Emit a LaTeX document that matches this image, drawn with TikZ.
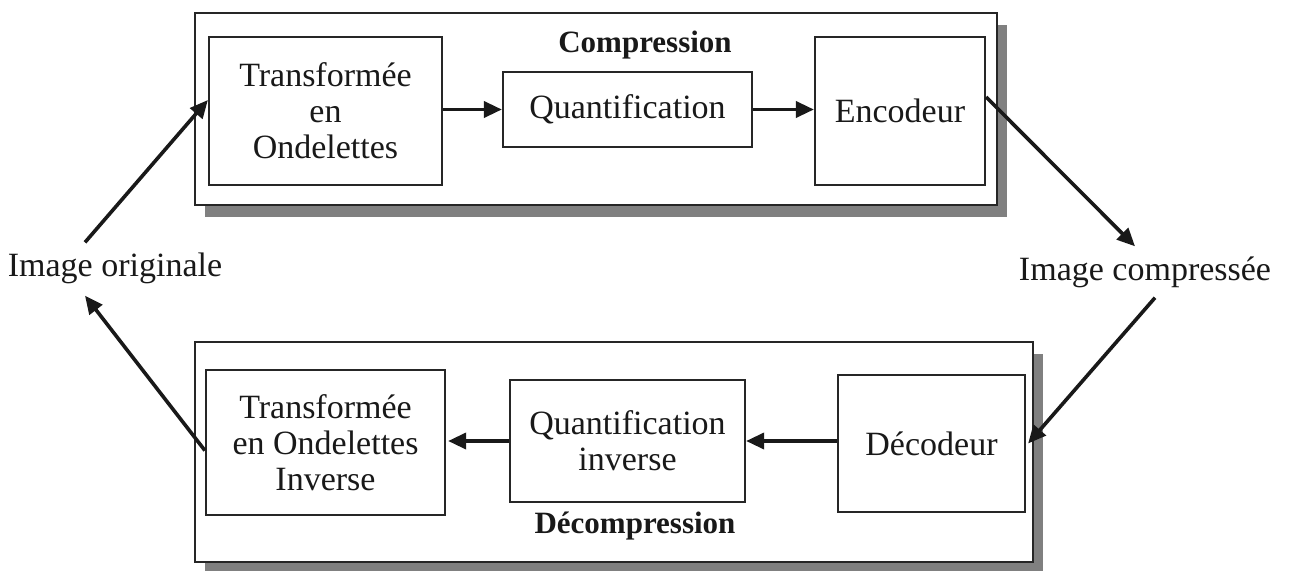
\documentclass[tikz,border=0pt]{standalone}
\usepackage{fontspec}
\setmainfont{Liberation Serif}
\usetikzlibrary{arrows.meta}
\tikzset{
  blk/.style={draw=black!85, line width=2.2pt, fill=white, inner sep=0pt, align=center,
    font=\fontsize{34}{36}\selectfont, text=black!90},
  outer/.style={draw=black!85, line width=2.2pt, fill=white, inner sep=0pt},
  shad/.style={fill=black!50, draw=none},
  lbl/.style={font=\fontsize{34}{36}\selectfont, text=black!90, inner sep=0pt},
  ttl/.style={font=\fontsize{31}{34}\selectfont\bfseries, text=black!90, inner sep=0pt},
  arr/.style={line width=3.6pt, draw=black!90, -{Triangle[length=18pt,width=16pt]}},
}
\begin{document}
\begin{tikzpicture}[x=1pt,y=-1pt]
\useasboundingbox (0,0) rectangle (1289,570);
\fill[white] (0,0) rectangle (1289,570);
% top group
\fill[shad] (205,25) rectangle (1007,217);
\node[outer, minimum width=802pt, minimum height=192pt] (top) at (596,109) {};
\node[blk, minimum width=233pt, minimum height=148pt] (T) at (325.5,111) {Transformée\\en\\Ondelettes};
\node[blk, minimum width=249pt, minimum height=75pt] (Q) at (627.5,109.5) {Quantification};
\node[blk, minimum width=170pt, minimum height=148pt] (E) at (900,111) {Encodeur};
\node[ttl] (comp) at (645,45) {Compression};
% bottom group
\fill[shad] (205,354) rectangle (1043,574);
\node[outer, minimum width=838pt, minimum height=220pt] (bot) at (614,452) {};
\node[blk, minimum width=239pt, minimum height=145pt] (TI) at (325.5,442.5) {Transformée\\en Ondelettes\\Inverse};
\node[blk, minimum width=235pt, minimum height=122pt] (QI) at (627.5,441) {Quantification\\inverse};
\node[blk, minimum width=187pt, minimum height=137pt] (D) at (931.5,443.5) {Décodeur};
\node[ttl] (decomp) at (635,526) {Décompression};
% side labels
\node[lbl] (orig) at (115,268) {Image originale};
\node[lbl] (cimg) at (1145,272) {Image compressée};
% arrows
\draw[arr] ([xshift=-30pt,yshift=10pt]orig.north) -- ([yshift=11pt]T.west);
\draw[arr] (Q.west -| T.east) -- (Q.west);
\draw[arr] (Q.east) -- (Q.east -| E.west);
\draw[arr] ([yshift=14pt]E.east) -- ([xshift=-10pt,yshift=10pt]cimg.north);
\draw[arr] ([xshift=10pt,yshift=-10pt]cimg.south) -- ([xshift=2pt]D.east);
\draw[arr] (QI.east -| D.west) -- (QI.east);
\draw[arr] (QI.west) -- ([xshift=2pt]QI.west -| TI.east);
\draw[arr] ([yshift=-8pt]TI.west) -- ([xshift=-30pt,yshift=-12pt]orig.south);
\end{tikzpicture}
\end{document}
